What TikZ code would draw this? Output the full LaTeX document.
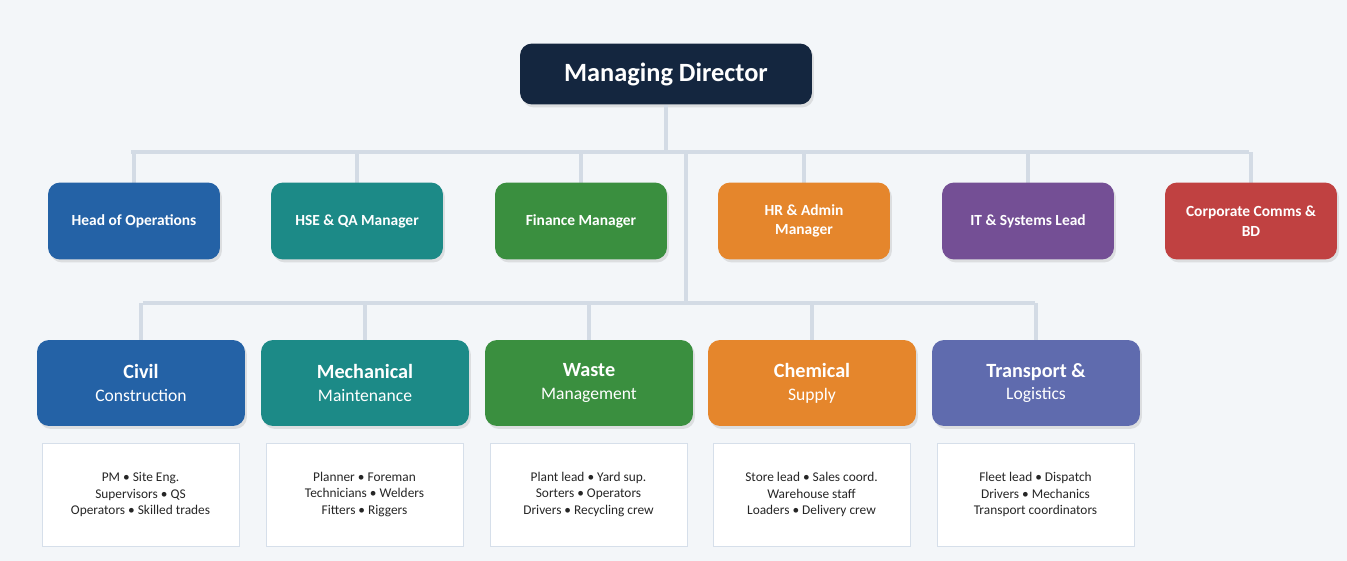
\documentclass[tikz,border=0pt]{standalone}
\usepackage{fontspec}
\setmainfont{Carlito}
\usetikzlibrary{shadows}
\definecolor{bg}{HTML}{F3F6F9}
\definecolor{navy}{HTML}{14263F}
\definecolor{cblue}{HTML}{2462A6}
\definecolor{cteal}{HTML}{1C8A87}
\definecolor{cgreen}{HTML}{3A8F3F}
\definecolor{corange}{HTML}{E5862C}
\definecolor{cpurple}{HTML}{744F95}
\definecolor{cred}{HTML}{C04141}
\definecolor{cindigo}{HTML}{5F6BAE}
\definecolor{wire}{HTML}{D3DBE5}
\definecolor{staffline}{HTML}{D6DFEA}
\begin{document}
\begin{tikzpicture}[x=0.02cm,y=-0.02cm,
  box/.style={rounded corners=0.24cm,text=white,align=center,inner sep=0pt,
    drop shadow={shadow xshift=0.04cm,shadow yshift=-0.06cm,opacity=0.2}},
  top node/.style={box,fill=navy,minimum width=5.84cm,minimum height=1.22cm,font=\fontsize{15}{18}\selectfont\bfseries},
  head node/.style={box,minimum width=3.44cm,minimum height=1.54cm,font=\fontsize{8.8}{11}\selectfont\bfseries},
  dept node/.style={box,minimum width=4.16cm,minimum height=1.72cm,font=\fontsize{10}{12}\selectfont},
  staff node/.style={fill=white,draw=staffline,minimum width=3.94cm,minimum height=2.06cm,
    align=center,inner sep=0pt,font=\fontsize{7.6}{9.6}\selectfont,text=black!85},
  wire line/.style={draw=wire,line width=0.07cm}]
  \fill[bg] (0,0) rectangle (1347,561);
  \useasboundingbox (0,0) rectangle (1347,561);
  % buses
  \coordinate (bus1w) at (131,152);
  \coordinate (bus1e) at (1249,152);
  \coordinate (trunk) at (686,152);
  \coordinate (bus2w) at (143,303);
  \coordinate (bus2e) at (1035,303);
  \coordinate (bus2m) at (686,303);
  \draw[wire line] (bus1w) -- (bus1e);
  \draw[wire line] (trunk) -- (bus2m);
  \draw[wire line] (bus2w) -- (bus2e);
  % managing director
  \node[top node] (md) at (666,74) {Managing Director};
  \draw[wire line] (md.south) -- (md.south |- bus1w);
  % heads
  \foreach \name/\x/\col/\txt in {ops/134/cblue/Head of Operations,
      hse/357/cteal/HSE \& QA Manager,
      fin/581/cgreen/Finance Manager,
      hr/804/corange/HR \& Admin\\Manager,
      it/1028/cpurple/IT \& Systems Lead,
      comms/1251/cred/Corporate Comms \&\\BD} {
    \coordinate (\name top) at (\x,152);
    \draw[wire line] (\name top) -- (\x,183);
    \node[head node,fill=\col] (\name) at (\x,221) {\txt};
  }
  % divisions and their staff
  \foreach \name/\x/\col/\title/\sub/\staff in {civil/141/cblue/Civil/Construction/PM • Site Eng.\\Supervisors • QS\\Operators • Skilled trades,
      mech/365/cteal/Mechanical/Maintenance/Planner • Foreman\\Technicians • Welders\\Fitters • Riggers,
      waste/589/cgreen/Waste/Management/Plant lead • Yard sup.\\Sorters • Operators\\Drivers • Recycling crew,
      chem/812/corange/Chemical/Supply/Store lead • Sales coord.\\Warehouse staff\\Loaders • Delivery crew,
      trans/1036/cindigo/Transport \&/Logistics/Fleet lead • Dispatch\\Drivers • Mechanics\\Transport coordinators} {
    \coordinate (\name top) at (\x,303);
    \draw[wire line] (\name top) -- (\x,340);
    \node[dept node,fill=\col] (\name) at (\x,383) {{\bfseries\fontsize{11.5}{13}\selectfont\title}\\[1pt]\sub};
    \node[staff node] (\name staff) at (\x-0.5,494.5) {\staff};
  }
\end{tikzpicture}
\end{document}
